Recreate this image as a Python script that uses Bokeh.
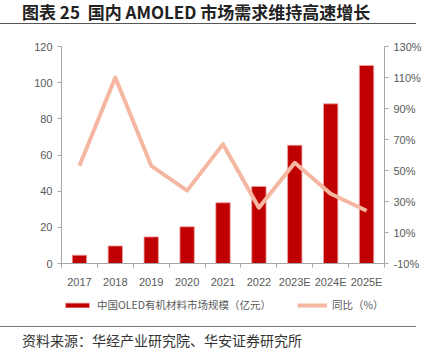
from bokeh.plotting import figure
from bokeh.models import (Range1d, LinearAxis, FixedTicker, Legend, LegendItem, Div,
                          ColumnDataSource, PrintfTickFormatter)
from bokeh.layouts import column
from bokeh.embed import file_html
from bokeh.resources import INLINE

years = ["2017", "2018", "2019", "2020", "2021", "2022", "2023E", "2024E", "2025E"]
market = [4.6, 9.7, 14.7, 20.3, 33.6, 42.6, 65.4, 88.3, 109.5]
growth = [53, 110, 53, 37, 67, 26, 55, 35, 24]
left_ticks = [0, 20, 40, 60, 80, 100, 120]
right_ticks = [-10, 10, 30, 50, 70, 90, 110, 130]

title_text = "图表 25  国内 AMOLED 市场需求维持高速增长"
source_text = "资料来源：华经产业研究院、华安证券研究所"
bar_label = "中国OLED有机材料市场规模（亿元）"
line_label = "同比（%）"

xpos = [i + 0.5 for i in range(len(years))]
src = ColumnDataSource(dict(x=xpos, year=years, market=market, growth=growth))

TICK_FONT = "Liberation Sans"
GRAY = "#595959"
AXIS = "#A6A6A6"
BAR = dict(fill_color="#C00000", line_color="#F2A0A0", line_width=0.8)
LINE = dict(line_color="#F5B7A1", line_width=4, line_join="round")

p = figure(width=440, height=264, output_backend="svg", toolbar_location=None,
           x_range=Range1d(0, len(years)), y_range=Range1d(0, 120),
           min_border_left=61, min_border_right=56, min_border_top=20, min_border_bottom=27,
           sizing_mode="fixed", margin=0)
p.extra_y_ranges = {"pct": Range1d(-10, 130)}
p.outline_line_color = None
p.xgrid.grid_line_color = None
p.ygrid.grid_line_color = None
p.background_fill_color = "white"
p.border_fill_color = "white"

bars = p.vbar(x="x", top="market", width=0.4, source=src, **BAR)
line = p.line(x="x", y="growth", source=src, y_range_name="pct", **LINE)

# x axis
xa = p.xaxis[0]
xa.ticker = FixedTicker(ticks=xpos, minor_ticks=list(range(len(years) + 1)))
xa.major_label_overrides = {x: y for x, y in zip(xpos, years)}
xa.major_tick_line_color = None
xa.minor_tick_in = 0
xa.minor_tick_out = 4
xa.minor_tick_line_color = AXIS
xa.axis_line_color = AXIS
xa.major_label_text_font = TICK_FONT
xa.major_label_text_font_size = "11px"
xa.major_label_text_color = GRAY
xa.major_label_standoff = 6

# left axis
ya = p.yaxis[0]
ya.ticker = FixedTicker(ticks=left_ticks)
ya.minor_tick_line_color = None
ya.major_tick_in = 0
ya.major_tick_out = 4
ya.major_tick_line_color = AXIS
ya.axis_line_color = AXIS
ya.major_label_text_font = TICK_FONT
ya.major_label_text_font_size = "11px"
ya.major_label_text_color = GRAY
ya.major_label_standoff = 5

# right axis
ra = LinearAxis(y_range_name="pct", ticker=FixedTicker(ticks=right_ticks),
                formatter=PrintfTickFormatter(format="%d%%"))
ra.minor_tick_line_color = None
ra.major_tick_in = 0
ra.major_tick_out = 4
ra.major_tick_line_color = AXIS
ra.axis_line_color = AXIS
ra.major_label_text_font = TICK_FONT
ra.major_label_text_font_size = "11px"
ra.major_label_text_color = GRAY
ra.major_label_standoff = 5
p.add_layout(ra, "right")

# legend strip (separate figure so that the legend sits below the axis);
# its renderers use the same data, kept out of this strip's visible range
lg = figure(width=440, height=36, output_backend="svg", toolbar_location=None,
            x_range=Range1d(1000, 1001), y_range=Range1d(1000, 1001),
            x_axis_type=None, y_axis_type=None,
            min_border=0, min_border_left=0, min_border_right=0, min_border_top=0,
            min_border_bottom=0, sizing_mode="fixed", margin=0)
lg.outline_line_color = None
lg.xgrid.grid_line_color = None
lg.ygrid.grid_line_color = None
lbars = lg.vbar(x="x", top="market", width=0.4, source=src, **BAR)
lline = lg.line(x="x", y="growth", source=src, **LINE)
legend = Legend(items=[LegendItem(label=bar_label, renderers=[lbars]),
                       LegendItem(label=line_label, renderers=[lline])],
                orientation="horizontal", location=(1, 14), spacing=26,
                glyph_width=30, glyph_height=6, label_standoff=5, label_height=12,
                label_text_font="Noto Sans CJK SC", label_text_font_size="10.5px",
                label_text_color=GRAY, border_line_color=None,
                background_fill_alpha=0, padding=0, margin=0)
lg.add_layout(legend, "center")

title = Div(text=f'<div style="font-family:\'Noto Sans CJK SC\';font-weight:bold;font-size:17px;'
                 f'color:#222;padding-left:22px;height:24px;line-height:23px;'
                 f'border-bottom:1.5px solid #555;width:416px;white-space:pre;overflow:hidden">{title_text}</div>',
            width=440, height=26, sizing_mode="fixed", margin=0)
caption = Div(text=f'<div style="font-family:\'Noto Sans CJK SC\';font-size:14px;color:#333;'
                   f'padding-left:22px;border-top:1.5px solid #777;width:416px;'
                   f'padding-top:1px;height:24px;line-height:24px;white-space:pre">{source_text}</div>',
              width=440, height=28, sizing_mode="fixed", margin=0)

layout = column(title, p, lg, caption, spacing=0, sizing_mode="fixed", width=440, height=354)
open("out.html", "w").write(file_html(layout, INLINE))
